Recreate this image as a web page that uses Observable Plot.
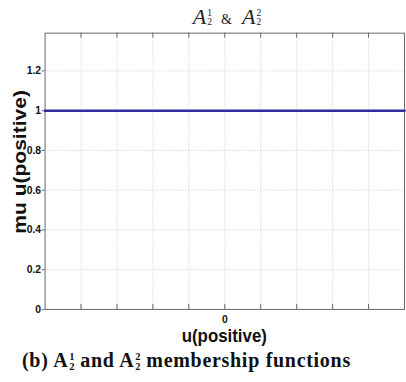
<!DOCTYPE html>
<html><head><meta charset="utf-8">
<script src="https://cdn.jsdelivr.net/npm/d3@7"></script>
<script src="https://cdn.jsdelivr.net/npm/@observablehq/plot@0.6"></script>
<style>
body{margin:0;background:#fff}
#wrap{position:relative;width:406px;height:382px;overflow:hidden;background:#fff}
#chart{position:absolute;left:0;top:0}
#title{position:absolute;left:0;top:7px;width:454px;text-align:center;white-space:nowrap;
  font-family:"Liberation Serif","Times New Roman",serif;font-size:22px;line-height:20px;color:#222}
#title .A{font-style:italic}
#title .amp{font-size:14px;margin:0 10px 0 9px}
#title .st{display:inline-block;vertical-align:-1px;font-size:9.5px;line-height:9.5px;text-align:left;margin-left:1px}
#title .st span{display:block}
#caption{position:absolute;left:22px;top:350px;white-space:nowrap;letter-spacing:0.7px;
  font-family:"Liberation Serif","Times New Roman",serif;font-weight:bold;font-size:20px;line-height:20px;color:#111}
#caption .st{display:inline-block;vertical-align:-3px;font-size:10.5px;line-height:10.5px;text-align:left;margin-left:1px;letter-spacing:0}
#caption .st span{display:block}
</style>
</head><body>
<div id="wrap">
  <div id="chart"></div>
  <div id="title"><span class="A">A</span><span class="st"><span>1</span><span>2</span></span><span class="amp">&amp;</span><span class="A">A</span><span class="st"><span>2</span><span>2</span></span></div>
  <div id="caption">(b) A<span class="st"><span>1</span><span>2</span></span> and A<span class="st"><span>2</span><span>2</span></span> membership functions</div>
</div>
<script>
// data
const uValues = [-5, 5];
const muValues = [1, 1];
const xGridValues = [-4, -3, -2, -1, 0, 1, 2, 3, 4];
const xTickValues = [0];
const xTickLabels = ["0"];
const yTickValues = [0, 0.2, 0.4, 0.6, 0.8, 1, 1.2];
const yTickLabels = ["0", "0.2", "0.4", "0.6", "0.8", "1", "1.2"];
const xLabel = "u(positive)";
const yLabel = "mu u(positive)";

const series = uValues.map((u, i) => ({u, mu: muValues[i]}));

const plot = Plot.plot({
  width: 410,
  height: 382,
  marginLeft: 45,
  marginRight: 2,
  marginTop: 33,
  marginBottom: 70,
  style: {fontFamily: "'Liberation Sans', Arial, sans-serif", fontSize: "10.5px", fontWeight: "bold", background: "transparent", color: "#111"},
  x: {domain: [-5, 5], label: null},
  y: {domain: [0, 1.39], label: null},
  marks: [
    Plot.gridX(xGridValues, {stroke: "#aaa", strokeOpacity: 0.55, strokeDasharray: "1,1.5"}),
    Plot.gridY(yTickValues, {stroke: "#aaa", strokeOpacity: 0.55, strokeDasharray: "1,1.5"}),
    Plot.ruleX(xGridValues, {insetTop: 274, stroke: "#666"}),
    Plot.ruleX(xGridValues, {insetBottom: 274, stroke: "#666"}),
    Plot.frame({stroke: "#666"}),
    Plot.axisY(yTickValues, {tickSize: 3, tickPadding: 1, stroke: "#666", tickFormat: (d) => yTickLabels[yTickValues.indexOf(d)], label: null}),
    Plot.axisX(xTickValues, {tickSize: 0, tickPadding: 6, tickFormat: (d) => xTickLabels[xTickValues.indexOf(d)], label: null}),
    Plot.line(series, {x: "u", y: "mu", stroke: "#2d2d9c", strokeWidth: 2.6})
  ]
});
document.getElementById("chart").appendChild(plot);

const sx = plot.scale("x");
const svg = d3.select(plot);
svg.append("text")
  .attr("x", sx.apply(0)).attr("y", 345)
  .attr("text-anchor", "middle")
  .attr("textLength", 86).attr("lengthAdjust", "spacingAndGlyphs")
  .style("font-family", "'Liberation Sans', Arial, sans-serif")
  .style("font-size", "19px").style("font-weight", "bold").attr("fill", "#111")
  .text(xLabel);
svg.append("text")
  .attr("transform", "translate(26,163.5) rotate(-90)")
  .attr("text-anchor", "middle")
  .attr("textLength", 145).attr("lengthAdjust", "spacingAndGlyphs")
  .style("font-family", "'Liberation Sans', Arial, sans-serif")
  .style("font-size", "19px").style("font-weight", "bold").attr("fill", "#111")
  .text(yLabel);
</script>
</body></html>
